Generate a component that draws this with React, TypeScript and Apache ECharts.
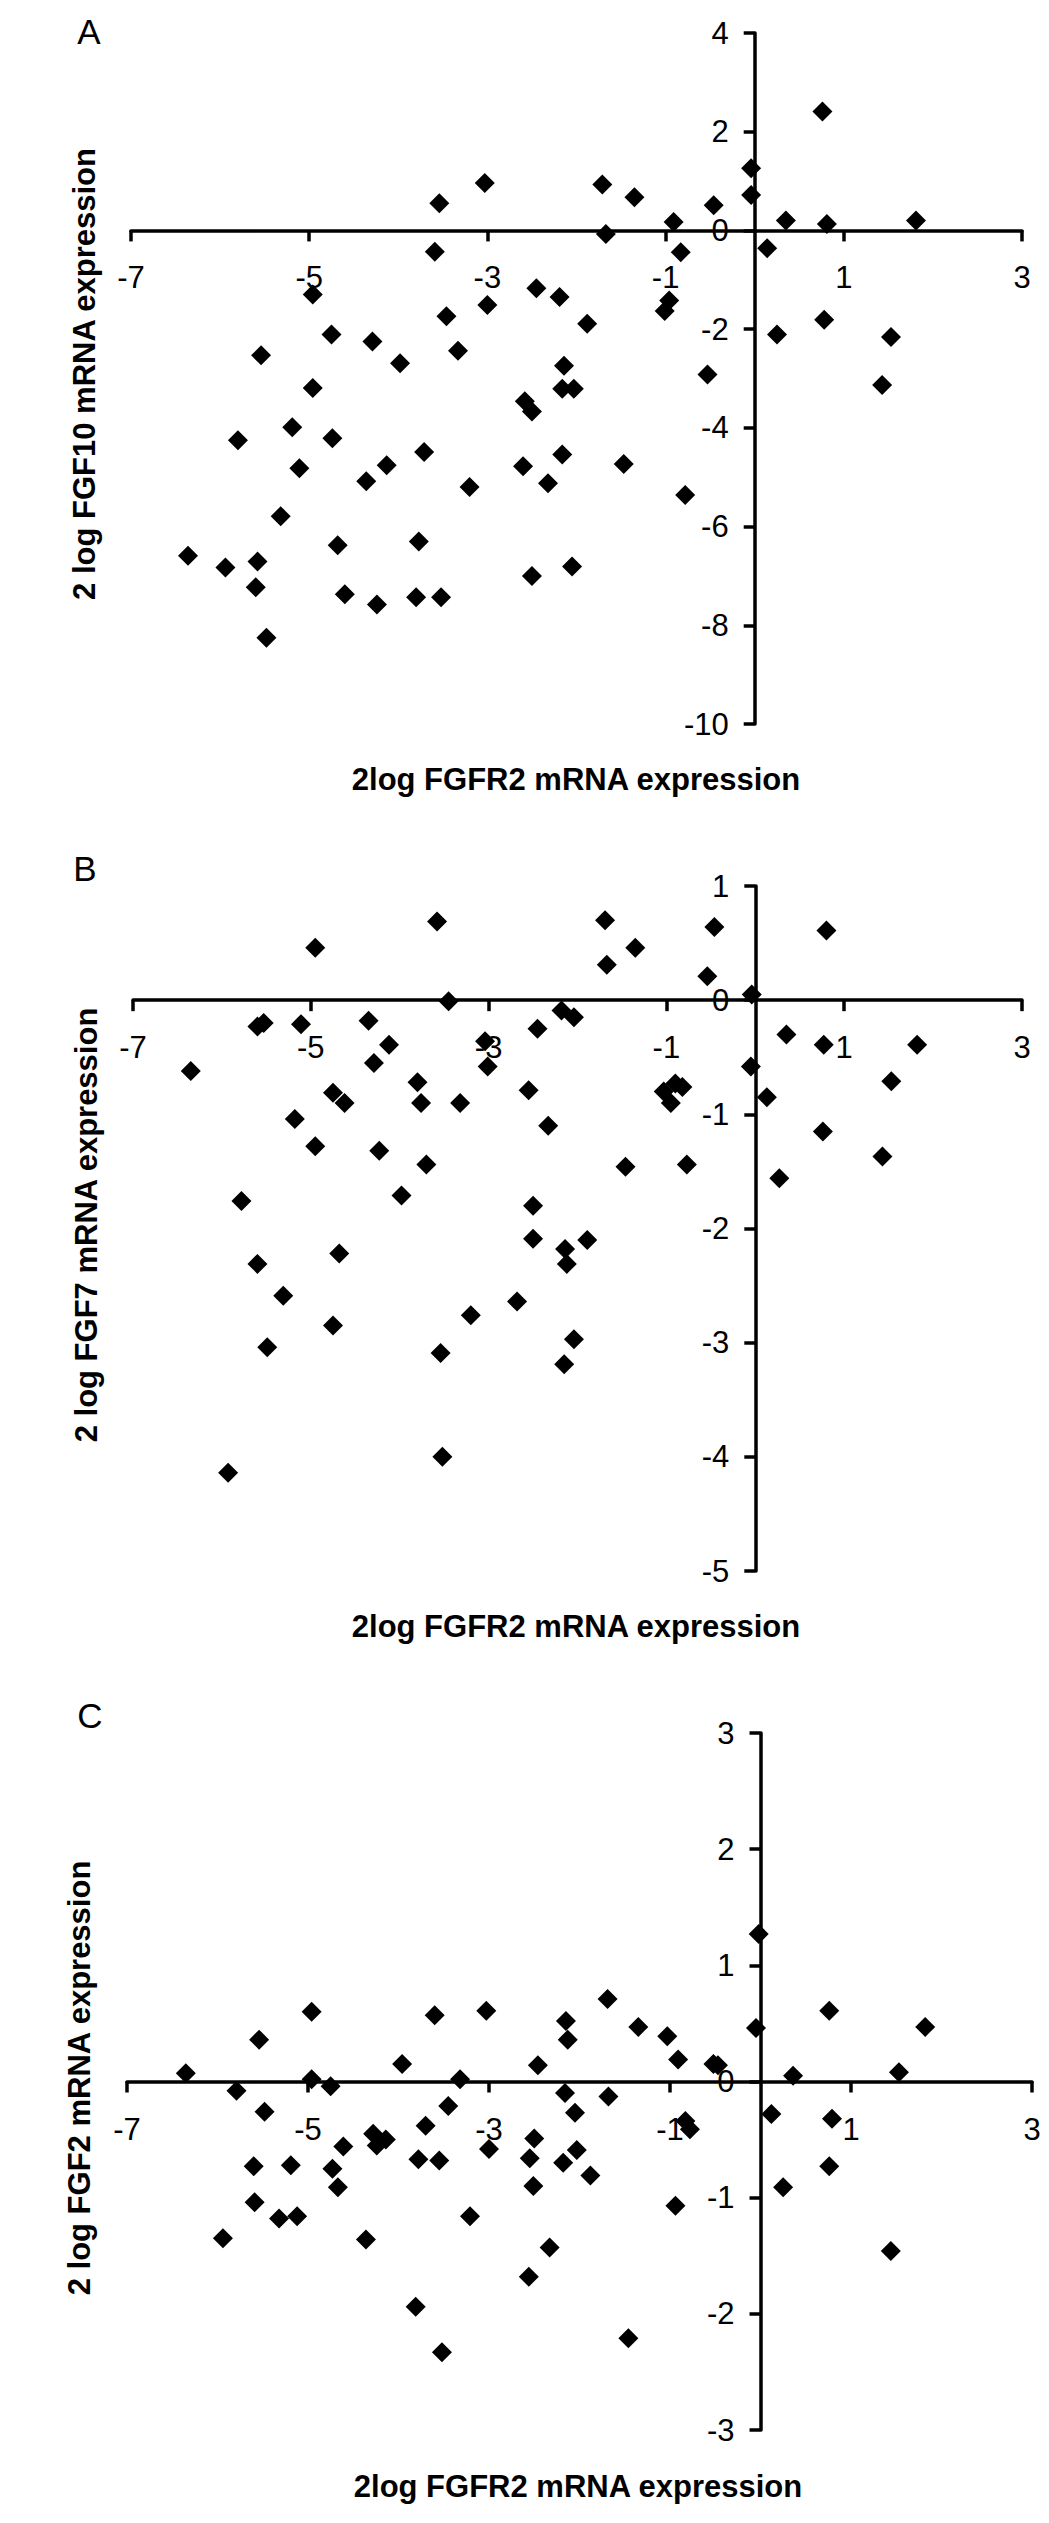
import React, { useEffect, useRef } from "react";
import * as echarts from "echarts";

const FONT = "'Liberation Sans', Arial, Helvetica, sans-serif";

// Shared x axis ticks (2log FGFR2 mRNA expression)
const xTicks = [-7, -5, -3, -1, 1, 3];
const xRange = { min: -7, max: 3 };

// Panel A: FGF10 vs FGFR2
const panelAX = [-3.03,-3.54,-3.59,-4.96,-3.00,-3.46,-4.75,-4.29,-3.33,-5.54,-3.98,-4.96,-2.58,-2.50,-5.19,-5.80,-4.74,-3.71,-5.11,-4.13,-4.36,-3.20,-2.60,-5.32,-4.68,-3.77,-6.36,-5.94,-5.58,-5.60,-4.60,-4.24,-3.80,-3.52,-5.48,-2.50,-2.14,-2.16,-2.03,-2.16,-2.32,-1.47,-0.78,-0.53,0.25,1.53,1.43,-2.05,0.76,-0.04,-0.04,-1.71,-1.35,-0.46,-0.91,-1.67,-0.83,0.14,0.35,0.81,1.81,-2.45,-2.19,-1.88,-0.96,-1.01,0.78];
const panelAY = [0.96,0.55,-0.43,-1.30,-1.51,-1.74,-2.11,-2.25,-2.44,-2.53,-2.69,-3.19,-3.46,-3.67,-3.99,-4.25,-4.21,-4.49,-4.82,-4.76,-5.08,-5.20,-4.78,-5.79,-6.38,-6.30,-6.59,-6.83,-6.71,-7.23,-7.37,-7.58,-7.43,-7.43,-8.25,-7.00,-2.74,-3.21,-3.21,-4.54,-5.12,-4.73,-5.36,-2.92,-2.11,-2.16,-3.13,-6.81,2.41,1.26,0.72,0.93,0.67,0.51,0.17,-0.07,-0.44,-0.36,0.20,0.13,0.20,-1.17,-1.35,-1.89,-1.42,-1.63,-1.81];

// Panel B: FGF7 vs FGFR2
const panelBX = [-3.58,-4.95,-3.45,-5.60,-5.53,-5.11,-4.35,-4.12,-4.29,-3.04,-3.01,-6.35,-4.75,-4.62,-3.80,-3.76,-3.32,-2.55,-5.18,-4.95,-4.23,-3.70,-5.78,-3.98,-4.68,-2.50,-2.50,-2.14,-1.89,-1.69,-1.35,-1.67,-0.46,-0.54,-0.04,0.80,-2.18,-2.04,-2.45,0.35,0.77,1.82,-0.05,1.53,-1.03,-0.90,-0.82,-0.95,0.13,-2.33,0.76,-1.46,-0.77,1.43,0.27,-2.12,-2.68,-2.04,-2.15,-5.60,-5.31,-4.75,-3.20,-5.49,-3.54,-5.93,-3.52];
const panelBY = [0.69,0.46,-0.01,-0.23,-0.20,-0.21,-0.18,-0.39,-0.55,-0.36,-0.58,-0.62,-0.81,-0.90,-0.72,-0.90,-0.90,-0.79,-1.04,-1.28,-1.32,-1.44,-1.76,-1.71,-2.22,-1.80,-2.09,-2.18,-2.10,0.70,0.46,0.31,0.64,0.21,0.05,0.61,-0.09,-0.15,-0.25,-0.30,-0.39,-0.39,-0.58,-0.71,-0.80,-0.73,-0.76,-0.90,-0.85,-1.10,-1.15,-1.46,-1.44,-1.37,-1.56,-2.31,-2.64,-2.97,-3.19,-2.31,-2.59,-2.85,-2.76,-3.04,-3.09,-4.14,-4.00];

// Panel C: FGF2 vs FGFR2
const panelCX = [-4.96,-5.54,-6.35,-3.60,-3.03,-3.96,-4.96,-4.75,-5.79,-3.32,-5.48,-3.45,-0.02,-0.05,0.76,1.82,0.36,1.53,-1.69,-2.15,-2.13,-1.35,-1.03,-2.46,-0.91,-0.52,-0.47,-2.16,-1.68,-2.05,0.12,-3.70,-4.61,-4.28,-4.14,-4.24,-3.78,-3.55,-3.00,-5.60,-5.19,-4.73,-4.67,-5.59,-5.32,-5.12,-5.94,-4.36,-3.21,-2.55,-2.51,-2.56,-3.81,-3.52,-2.50,-2.18,-2.03,-1.88,-2.33,-1.46,-0.94,-0.83,-0.78,0.79,0.76,0.25,1.44];
const panelCY = [0.60,0.36,0.07,0.57,0.61,0.15,0.02,-0.04,-0.08,0.02,-0.26,-0.21,1.27,0.46,0.61,0.47,0.05,0.08,0.71,0.52,0.36,0.47,0.39,0.14,0.19,0.15,0.14,-0.10,-0.13,-0.27,-0.28,-0.38,-0.56,-0.45,-0.50,-0.55,-0.67,-0.68,-0.58,-0.73,-0.72,-0.75,-0.91,-1.04,-1.18,-1.16,-1.35,-1.36,-1.16,-0.66,-0.90,-1.68,-1.94,-2.33,-0.49,-0.70,-0.59,-0.81,-1.43,-2.21,-1.07,-0.34,-0.41,-0.32,-0.73,-0.91,-1.46];

const panelLetters = ["A", "B", "C"];
const yTitles = ["2 log FGF10 mRNA expression", "2 log FGF7 mRNA expression", "2 log FGF2 mRNA expression"];
const xTitle = "2log FGFR2 mRNA expression";
const yRanges = [
  { min: -10, max: 4, interval: 2 },
  { min: -5, max: 1, interval: 1 },
  { min: -3, max: 3, interval: 1 },
];

const zip = (xs: number[], ys: number[]) => xs.map((x, i) => [x, ys[i]]);

export default function App() {
  const ref = useRef<HTMLDivElement>(null);

  useEffect(() => {
    if (!ref.current) return;
    const chart = echarts.init(ref.current, undefined, { renderer: "svg" });

    const grids = [
      { left: 131, top: 33, width: 891, height: 691 },
      { left: 133, top: 886, width: 889, height: 685 },
      { left: 127, top: 1733, width: 905, height: 697 },
    ];
    const lineStyle = { color: "#000", width: 3.5 };
    const datasets = [
      zip(panelAX, panelAY),
      zip(panelBX, panelBY),
      zip(panelCX, panelCY),
    ];

    const letterPos = [
      [89, 31],
      [85, 868],
      [90, 1715],
    ];
    const yTitlePos = [
      [84, 374],
      [86, 1225],
      [79, 2078],
    ];
    const xTitlePos = [
      [576, 779],
      [576, 1626],
      [578, 2486],
    ];

    const textStyle = (text: string, size: number, bold: boolean) => ({
      text,
      fontSize: size,
      fontWeight: bold ? "bold" : "normal",
      fontFamily: FONT,
      fill: "#000",
      align: "center",
      verticalAlign: "middle",
      textAlign: "center",
      textVerticalAlign: "middle",
    });

    const graphic: any[] = [];
    for (let i = 0; i < 3; i++) {
      graphic.push({
        type: "text",
        x: letterPos[i][0],
        y: letterPos[i][1],
        style: textStyle(panelLetters[i], 35, false),
      });
      graphic.push({
        type: "text",
        x: yTitlePos[i][0],
        y: yTitlePos[i][1],
        rotation: Math.PI / 2,
        style: textStyle(yTitles[i], 31, true),
      });
      graphic.push({
        type: "text",
        x: xTitlePos[i][0],
        y: xTitlePos[i][1],
        style: textStyle(xTitle, 31, true),
      });
    }

    const option: any = {
      animation: false,
      backgroundColor: "#fff",
      grid: grids.map((g) => ({ ...g, containLabel: false })),
      xAxis: grids.map((g, i) => ({
        type: "value",
        gridIndex: i,
        position: "bottom",
        // move the axis (line, ticks, labels) up to y = 0
        offset: -g.height * (0 - yRanges[i].min) / (yRanges[i].max - yRanges[i].min),
        min: xRange.min,
        max: xRange.max,
        interval: 1,
        splitLine: { show: false },
        axisLine: { show: true, onZero: false, lineStyle },
        axisTick: { show: true, length: 11, lineStyle, customValues: xTicks },
        axisLabel: {
          customValues: xTicks,
          fontSize: 31,
          color: "#000",
          fontFamily: FONT,
          margin: 32,
        },
      })),
      yAxis: grids.map((g, i) => ({
        type: "value",
        gridIndex: i,
        position: "left",
        // move the axis (line, ticks, labels) right to x = 0
        offset: -g.width * (0 - xRange.min) / (xRange.max - xRange.min),
        min: yRanges[i].min,
        max: yRanges[i].max,
        interval: yRanges[i].interval,
        splitLine: { show: false },
        axisLine: { show: true, onZero: false, lineStyle },
        axisTick: { show: true, length: 11, lineStyle },
        axisLabel: {
          fontSize: 31,
          color: "#000",
          fontFamily: FONT,
          margin: 26,
        },
      })),
      series: datasets.map((d, i) => ({
        type: "scatter",
        xAxisIndex: i,
        yAxisIndex: i,
        data: d,
        symbol: "diamond",
        symbolSize: 20,
        itemStyle: { color: "#000", opacity: 1 },
        silent: true,
        z: 3,
      })),
      graphic,
    };

    chart.setOption(option);
    return () => chart.dispose();
  }, []);

  return (
    <div
      ref={ref}
      style={{ position: "absolute", left: 0, top: 0, width: 1049, height: 2523, background: "#fff" }}
    />
  );
}
